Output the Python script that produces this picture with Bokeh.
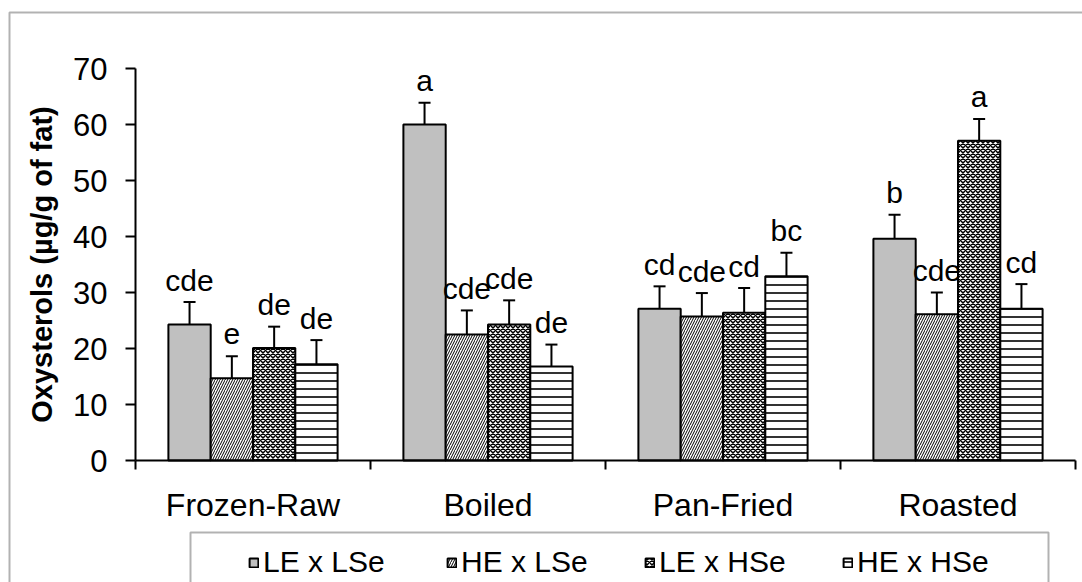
from bokeh.plotting import figure
from bokeh.models import (Range1d, FixedTicker, Whisker, TeeHead, ColumnDataSource,
                          Legend, LegendItem, BoxAnnotation)
from bokeh.core.properties import value
from bokeh.embed import file_html
from bokeh.resources import INLINE

# ---------------- data ----------------
categories = ["Frozen-Raw", "Boiled", "Pan-Fried", "Roasted"]
series_names = ["LE x LSe", "HE x LSe", "LE x HSe", "HE x HSe"]

le_lse = [24.3, 60.0, 27.1, 39.6]
le_lse_err = [4.0, 3.9, 4.0, 4.3]
he_lse = [14.7, 22.5, 25.7, 26.1]
he_lse_err = [3.9, 4.3, 4.2, 3.9]
le_hse = [20.1, 24.3, 26.4, 57.1]
le_hse_err = [3.8, 4.3, 4.4, 3.9]
he_hse = [17.2, 16.8, 32.9, 27.1]
he_hse_err = [4.3, 3.9, 4.2, 4.4]

le_lse_letters = ["cde", "a", "cd", "b"]
he_lse_letters = ["e", "cde", "cde", "cde"]
le_hse_letters = ["de", "cde", "cd", "a"]
he_hse_letters = ["de", "de", "bc", "cd"]

y_ticks = [0, 10, 20, 30, 40, 50, 60, 70]

# ---------------- layout (pixels) ----------------
W, H = 1082, 582
AX_L, AX_R, AX_T, AX_B = 135, 1075, 68, 460      # plotting area of the axes
Y_MAX = 70
N = len(categories)
px_x = (AX_R - AX_L) / N
px_y = (AX_B - AX_T) / Y_MAX

FONT = "Liberation Sans"
offsets = [-0.27, -0.09, 0.09, 0.27]
bar_w = 0.18
styles = [
    dict(fill_color="#C0C0C0", hatch_pattern=None),
    dict(fill_color="white", hatch_pattern="/", hatch_scale=5, hatch_weight=1, hatch_color="black"),
    dict(fill_color="white", hatch_pattern="x", hatch_scale=5, hatch_weight=1.5, hatch_color="black"),
    dict(fill_color="white", hatch_pattern="-", hatch_scale=8, hatch_weight=1.6, hatch_color="black"),
]

p = figure(width=W, height=H, output_backend="svg", toolbar_location=None,
           x_range=Range1d(-AX_L / px_x, (W - AX_L) / px_x),
           y_range=Range1d(-(H - AX_B) / px_y, Y_MAX + AX_T / px_y),
           min_border=0, min_border_left=0, min_border_right=0,
           min_border_top=0, min_border_bottom=0)
p.outline_line_color = None
p.grid.visible = False
p.background_fill_color = "white"
p.border_fill_color = "white"

# outer frame of the chart
p.add_layout(BoxAnnotation(left=9, top=12, right=1300, bottom=900,
                           left_units="canvas", right_units="canvas",
                           top_units="canvas", bottom_units="canvas",
                           fill_alpha=0, line_color="black", line_width=2))
# legend box
p.add_layout(BoxAnnotation(left=190, top=532, right=1048, bottom=900,
                           left_units="canvas", right_units="canvas",
                           top_units="canvas", bottom_units="canvas",
                           fill_alpha=0, line_color="black", line_width=2))

all_vals = [le_lse, he_lse, le_hse, he_hse]
all_errs = [le_lse_err, he_lse_err, le_hse_err, he_hse_err]
all_letters = [le_lse_letters, he_lse_letters, le_hse_letters, he_hse_letters]

items = []
for k in range(4):
    xs = [i + 0.5 + offsets[k] for i in range(N)]
    tops = all_vals[k]
    ups = [v + e for v, e in zip(all_vals[k], all_errs[k])]
    src = ColumnDataSource(dict(x=xs, top=tops, upper=ups, letters=all_letters[k]))
    r = p.vbar(x="x", top="top", bottom=0, width=bar_w, source=src,
               line_color="black", line_width=2, **styles[k])
    items.append(LegendItem(label=series_names[k], renderers=[r]))
    w = Whisker(base="x", lower="top", upper="upper", source=src, dimension="height",
                line_color="black", line_width=2,
                upper_head=TeeHead(size=12, line_width=2, line_color="black"), lower_head=None)
    p.add_layout(w)
    p.text(x="x", y="upper", text="letters", source=src,
           text_font=value(FONT), text_font_size="30px", text_color="black",
           text_align="center", text_baseline="alphabetic", y_offset=-22)

# axes (drawn at data 0, bounded to the data area)
xa = p.xaxis[0]
xa.fixed_location = 0
xa.bounds = (0, N)
xa.ticker = FixedTicker(ticks=[i + 0.5 for i in range(N)], minor_ticks=list(range(N + 1)))
xa.major_label_overrides = {i + 0.5: c for i, c in enumerate(categories)}
xa.major_tick_out = 0
xa.major_tick_in = 0
xa.minor_tick_out = 9
xa.minor_tick_in = 0
xa.minor_tick_line_width = 2
xa.axis_line_width = 2
xa.major_label_standoff = 17
xa.major_label_text_font = FONT
xa.major_label_text_font_size = "32px"
xa.major_label_text_color = "black"

ya = p.yaxis[0]
ya.fixed_location = 0
ya.bounds = (0, Y_MAX)
ya.ticker = FixedTicker(ticks=y_ticks)
ya.major_tick_out = 10
ya.major_tick_in = 0
ya.minor_tick_out = 0
ya.minor_tick_in = 0
ya.major_tick_line_width = 2
ya.axis_line_width = 2
ya.major_label_standoff = 18
ya.major_label_text_font = FONT
ya.major_label_text_font_size = "31px"
ya.major_label_text_color = "black"
ya.axis_label = "Oxysterols (\u00b5g/g of fat)"
ya.axis_label_text_font = FONT
ya.axis_label_text_font_size = "29px"
ya.axis_label_text_font_style = "bold"
ya.axis_label_text_color = "black"
ya.axis_label_standoff = 12

legend = Legend(items=items, orientation="horizontal", location=(248, 3),
                padding=0, margin=0, spacing=0, border_line_alpha=0,
                background_fill_alpha=0, glyph_width=11, glyph_height=11,
                label_standoff=4, label_width=183,
                label_text_font=FONT, label_text_font_size="30px", label_text_color="black")
p.add_layout(legend, "center")

open("out.html", "w").write(file_html(p, INLINE))
